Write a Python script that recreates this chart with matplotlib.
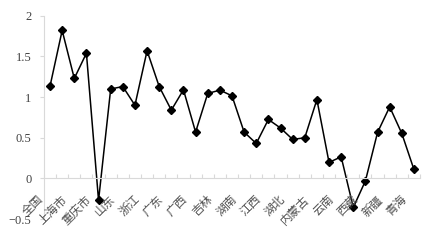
import matplotlib
matplotlib.use("Agg")
import matplotlib.pyplot as plt
from matplotlib.ticker import FixedLocator, NullFormatter

values = [1.135, 1.82, 1.23, 1.54, -0.27, 1.10, 1.13, 0.90,
          1.57, 1.13, 0.84, 1.09, 0.57, 1.045, 1.086, 1.016,
          0.57, 0.43, 0.725, 0.62, 0.48, 0.50, 0.97, 0.197,
          0.266, -0.357, -0.03, 0.566, 0.88, 0.553, 0.11]
tick_labels = ["全国", "上海市", "重庆市", "山东", "浙江", "广东", "广西", "吉林",
               "湖南", "江西", "湖北", "内蒙古", "云南", "西藏", "新疆", "青海"]
label_step = 2
y_ticks = [-0.5, 0, 0.5, 1, 1.5, 2]

fig = plt.figure(figsize=(4.31, 2.47), dpi=100)
ax = fig.add_axes([0.102, 0.113, 0.8725, 0.823])

x = list(range(len(values)))
ax.plot(x, values, color="black", lw=1.1, marker="D", ms=4, mec="black", mfc="black")

ax.set_xlim(-0.5, len(values) - 0.5)
ax.set_ylim(-0.5, 2)

for s in ["top", "right"]:
    ax.spines[s].set_visible(False)
ax.spines["bottom"].set_position(("data", 0))
for s in ["left", "bottom"]:
    ax.spines[s].set_color("#d9d9d9")
    ax.spines[s].set_linewidth(0.8)

# y axis
ax.set_yticks(y_ticks)
ax.set_yticklabels([f"{v:g}".replace("-", "−") for v in y_ticks],
                   fontfamily="Liberation Serif", fontsize=9, color="#404040")
ax.tick_params(axis="y", length=3, color="#d9d9d9", pad=6)

# x axis: tick marks between categories, labels every other category
ax.xaxis.set_major_locator(FixedLocator([i + 0.5 for i in range(-1, len(values))]))
ax.xaxis.set_major_formatter(NullFormatter())
ax.tick_params(axis="x", direction="in", length=3, color="#d9d9d9")

label_pos = x[::label_step]
for pos, lab in zip(label_pos, tick_labels):
    ax.annotate(lab, xy=(pos, 0), xytext=(-10, -10.5), textcoords="offset points",
                rotation=45, ha="right", va="top", rotation_mode="anchor",
                fontsize=8.5, color="#505050",
                family=["Noto Sans CJK SC", "DejaVu Sans"], annotation_clip=False)

fig.savefig("out.png", dpi=100)
